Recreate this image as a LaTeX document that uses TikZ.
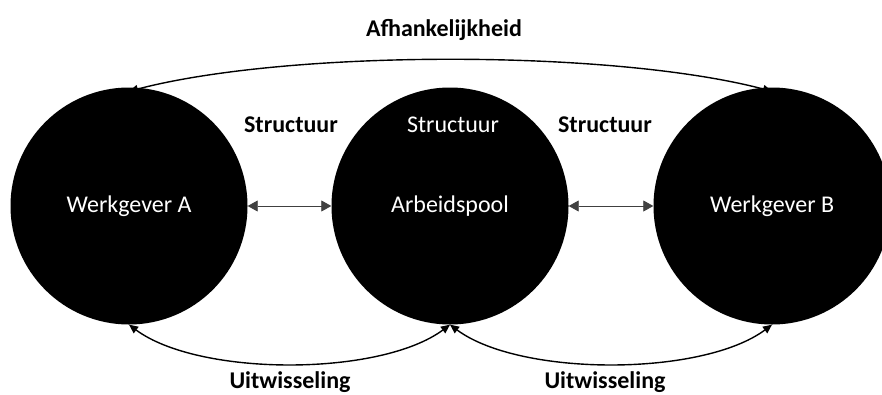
\documentclass[tikz,border=0pt]{standalone}
\usepackage{fontspec}
\setmainfont{Carlito}
\usetikzlibrary{arrows.meta}
\begin{document}
\begin{tikzpicture}[x=1pt,y=-1pt,
  blob/.style={circle,fill=black,draw=none,minimum size=237pt,inner sep=0pt,text=white,font=\fontsize{24}{28}\selectfont},
  lbl/.style={font=\fontsize{24}{28}\selectfont\bfseries,inner sep=0pt},
  wlbl/.style={font=\fontsize{24}{28}\selectfont,text=white,inner sep=0pt},
  harrow/.style={{Triangle[length=10pt,width=11pt]}-{Triangle[length=10pt,width=11pt]},line width=0.8pt,draw=black!75},
  carrow/.style={{Triangle[length=9pt,width=8pt]}-{Triangle[length=9pt,width=8pt]},line width=1.4pt}]
\useasboundingbox (0,0) rectangle (882,394);
\node[blob] (A) at (129,206) {Werkgever A};
\node[blob] (M) at (450,206) {Arbeidspool};
\node[blob] (B) at (772,206) {Werkgever B};
\node[wlbl] (sm) at (453,125) {Structuur};
\node[lbl] (sl) at (291,125) {Structuur};
\node[lbl] (sr) at (605,125) {Structuur};
\node[lbl] (af) at (444,30) {Afhankelijkheid};
\node[lbl,anchor=base] (u1) at (290,388) {Uitwisseling};
\node[lbl,anchor=base] (u2) at (605,388) {Uitwisseling};
\draw[harrow] (A.east) -- (M.west);
\draw[harrow] (M.east) -- (B.west);
\draw[carrow] ([yshift=-4pt]A.north) .. controls +(160,-42) and +(-160,-42) .. ([yshift=-4pt]B.north);
\draw[carrow] (A.south) .. controls +(70,52) and +(-70,52) .. (M.south);
\draw[carrow] (M.south) .. controls +(70,52) and +(-70,52) .. (B.south);
\end{tikzpicture}
\end{document}
